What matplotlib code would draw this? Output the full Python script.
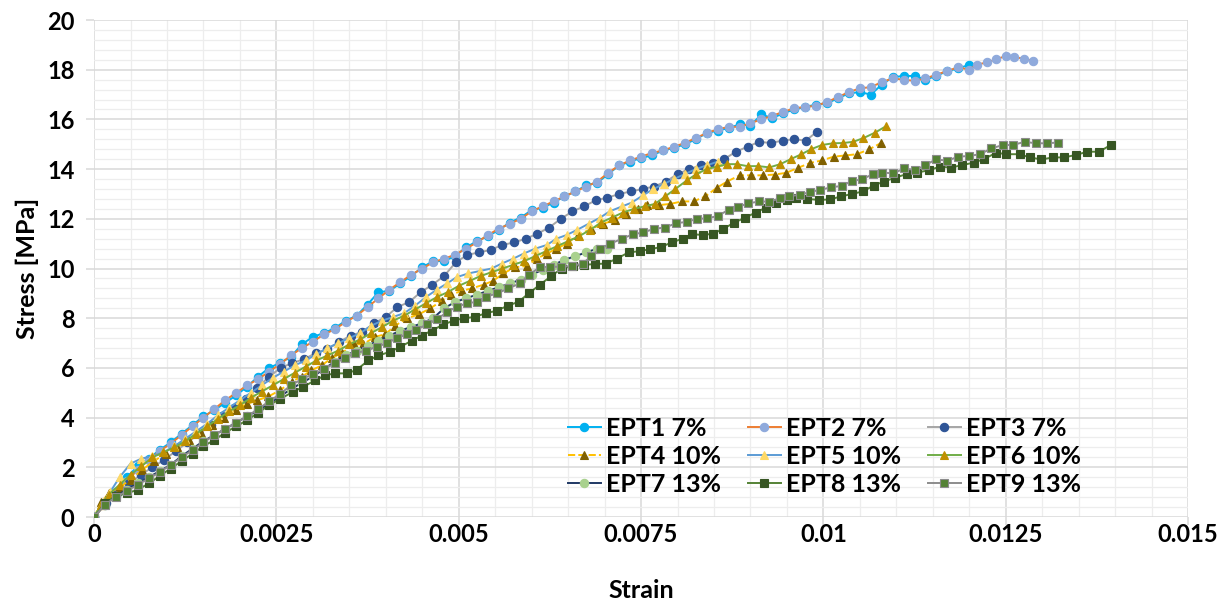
import matplotlib
matplotlib.use("Agg")
import matplotlib.pyplot as plt
from matplotlib.ticker import MultipleLocator, AutoMinorLocator, FuncFormatter

# données (strain, stress [MPa])
ept1 = [(0, 0), (0.00015, 0.55), (0.0003, 1.0), (0.00045, 1.6), (0.0006, 2.05), (0.00075, 2.35),
        (0.0009, 2.7), (0.00105, 3.0), (0.0012, 3.35), (0.00135, 3.7), (0.0015, 4.05), (0.00165, 4.3),
        (0.0018, 4.6), (0.00195, 4.9), (0.0021, 5.25), (0.00225, 5.65), (0.0024, 6.0), (0.00255, 6.2),
        (0.0027, 6.45), (0.00285, 6.95), (0.003, 7.25), (0.00315, 7.4), (0.0033, 7.6), (0.00345, 7.9),
        (0.0036, 8.1), (0.00375, 8.55), (0.0039, 9.05), (0.00405, 9.1), (0.0042, 9.4), (0.00435, 9.7),
        (0.0045, 10.05), (0.00465, 10.3), (0.0048, 10.3), (0.00495, 10.5), (0.0051, 10.85), (0.00525, 11.1),
        (0.0054, 11.3), (0.00555, 11.55), (0.0057, 11.85), (0.00585, 12.05), (0.006, 12.35), (0.00615, 12.45),
        (0.0063, 12.65), (0.00645, 12.9), (0.0066, 13.1), (0.00675, 13.35), (0.0069, 13.45), (0.00705, 13.8),
        (0.0072, 14.15), (0.00735, 14.3), (0.0075, 14.45), (0.00765, 14.55), (0.0078, 14.75), (0.00795, 14.85),
        (0.0081, 15.0), (0.00825, 15.2), (0.0084, 15.45), (0.00855, 15.55), (0.0087, 15.65), (0.00885, 15.8),
        (0.009, 15.75), (0.00915, 16.2), (0.0093, 16.05), (0.00945, 16.25), (0.0096, 16.4), (0.00975, 16.5),
        (0.0099, 16.6), (0.01005, 16.65), (0.0102, 16.85), (0.01035, 17.05), (0.0105, 17.1), (0.01065, 17.0),
        (0.0108, 17.4), (0.01095, 17.7), (0.0111, 17.75), (0.01125, 17.75), (0.0114, 17.6), (0.01155, 17.75),
        (0.0117, 17.95), (0.01185, 18.05), (0.012, 18.2)]

ept2 = [(0, 0), (0.00015, 0.5), (0.0003, 0.95), (0.00045, 1.45), (0.0006, 1.9), (0.00075, 2.3),
        (0.0009, 2.65), (0.00105, 2.95), (0.0012, 3.3), (0.00135, 3.65), (0.0015, 4.0), (0.00165, 4.35),
        (0.0018, 4.7), (0.00195, 5.0), (0.0021, 5.3), (0.00225, 5.55), (0.0024, 5.85), (0.00255, 6.15),
        (0.0027, 6.5), (0.00285, 6.8), (0.003, 7.05), (0.00315, 7.35), (0.0033, 7.55), (0.00345, 7.85),
        (0.0036, 8.1), (0.00375, 8.45), (0.0039, 8.8), (0.00405, 9.15), (0.0042, 9.45), (0.00435, 9.75),
        (0.0045, 10.0), (0.00465, 10.25), (0.0048, 10.4), (0.00495, 10.55), (0.0051, 10.8), (0.00525, 11.05),
        (0.0054, 11.35), (0.00555, 11.6), (0.0057, 11.8), (0.00585, 12.0), (0.006, 12.3), (0.00615, 12.5),
        (0.0063, 12.7), (0.00645, 12.9), (0.0066, 13.1), (0.00675, 13.3), (0.0069, 13.5), (0.00705, 13.85),
        (0.0072, 14.15), (0.00735, 14.35), (0.0075, 14.5), (0.00765, 14.65), (0.0078, 14.75), (0.00795, 14.9),
        (0.0081, 15.05), (0.00825, 15.25), (0.0084, 15.45), (0.00855, 15.6), (0.0087, 15.7), (0.00885, 15.7),
        (0.009, 15.85), (0.00915, 16.0), (0.0093, 16.15), (0.00945, 16.3), (0.0096, 16.45), (0.00975, 16.5),
        (0.0099, 16.55), (0.01005, 16.7), (0.0102, 16.9), (0.01035, 17.1), (0.0105, 17.25), (0.01065, 17.3),
        (0.0108, 17.5), (0.01095, 17.65), (0.0111, 17.6), (0.01125, 17.55), (0.0114, 17.65), (0.01155, 17.8),
        (0.0117, 17.95), (0.01185, 18.1), (0.012, 18.0), (0.0121, 18.2), (0.01225, 18.3), (0.01237, 18.42),
        (0.0125, 18.55), (0.01262, 18.5), (0.01275, 18.45), (0.01288, 18.35)]

ept3 = [(0, 0), (0.00016, 0.55), (0.00032, 0.95), (0.00048, 1.35), (0.00064, 1.7), (0.0008, 2.0),
        (0.00096, 2.3), (0.00112, 2.65), (0.00128, 3.0), (0.00144, 3.35), (0.0016, 3.7), (0.00176, 4.05),
        (0.00192, 4.4), (0.00208, 4.75), (0.00224, 5.2), (0.0024, 5.65), (0.00256, 6.0), (0.00272, 6.2),
        (0.00288, 6.35), (0.00304, 6.6), (0.0032, 6.75), (0.00336, 7.05), (0.00352, 7.3), (0.00368, 7.45),
        (0.00384, 7.8), (0.004, 8.05), (0.00416, 8.45), (0.00432, 8.65), (0.00448, 9.05), (0.00464, 9.35),
        (0.0048, 9.7), (0.00496, 10.25), (0.00512, 10.55), (0.00528, 10.65), (0.00544, 10.75), (0.0056, 10.95),
        (0.00576, 11.05), (0.00592, 11.2), (0.00608, 11.4), (0.00624, 11.65), (0.0064, 12.0), (0.00656, 12.3),
        (0.00672, 12.5), (0.00688, 12.75), (0.00704, 12.85), (0.0072, 13.0), (0.00736, 13.1), (0.00752, 13.2),
        (0.00768, 13.3), (0.00784, 13.5), (0.008, 13.8), (0.00816, 14.0), (0.00832, 14.15), (0.00848, 14.25),
        (0.00864, 14.4), (0.0088, 14.7), (0.00896, 14.9), (0.00912, 15.1), (0.00928, 15.05), (0.00944, 15.15),
        (0.0096, 15.2), (0.00976, 15.15), (0.00991, 15.5)]

ept4 = [(0, 0), (0.0001, 0.6), (0.0002, 0.95), (0.00035, 1.2), (0.0005, 1.5), (0.00066, 1.9),
        (0.00082, 2.25), (0.00098, 2.55), (0.00114, 2.8), (0.0013, 3.1), (0.00146, 3.4), (0.00162, 3.7),
        (0.00178, 4.0), (0.00194, 4.3), (0.0021, 4.55), (0.00224, 4.7), (0.00239, 4.85), (0.00255, 5.1),
        (0.00271, 5.45), (0.00285, 5.65), (0.00298, 5.9), (0.00312, 6.1), (0.00326, 6.4), (0.0034, 6.6),
        (0.00356, 6.95), (0.00369, 6.95), (0.00385, 7.25), (0.00399, 7.35), (0.00413, 7.7), (0.00429, 8.0),
        (0.00445, 8.15), (0.00461, 8.4), (0.00477, 8.7), (0.0049, 8.95), (0.00504, 9.1), (0.00518, 9.2),
        (0.00534, 9.35), (0.00547, 9.5), (0.00561, 9.8), (0.00577, 10.05), (0.00593, 10.1), (0.00607, 10.4),
        (0.00621, 10.6), (0.00634, 10.8), (0.00648, 11.0), (0.00664, 11.35), (0.00682, 11.6), (0.00698, 11.8),
        (0.00714, 11.95), (0.0073, 12.2), (0.00746, 12.4), (0.00758, 12.55), (0.00774, 12.55), (0.0079, 12.6),
        (0.00806, 12.7), (0.00822, 12.7), (0.00838, 12.9), (0.00854, 13.25), (0.00868, 13.5), (0.00885, 13.75),
        (0.00901, 13.75), (0.00917, 13.75), (0.00933, 13.78), (0.00949, 13.85), (0.00965, 14.05), (0.00982, 14.25),
        (0.00998, 14.35), (0.01014, 14.5), (0.0103, 14.55), (0.01046, 14.6), (0.01063, 14.8), (0.01079, 15.05)]

ept5 = [(0, 0), (0.0001, 0.5), (0.00022, 1.0), (0.00035, 1.6), (0.0005, 2.15), (0.00065, 2.35),
        (0.0008, 2.45), (0.00095, 2.6), (0.0011, 2.85), (0.00125, 3.15), (0.0014, 3.45), (0.00155, 3.75),
        (0.0017, 4.1), (0.00185, 4.4), (0.002, 4.7), (0.00215, 5.0), (0.0023, 5.3), (0.00245, 5.6),
        (0.0026, 5.85), (0.00275, 6.1), (0.0029, 6.3), (0.00305, 6.55), (0.0032, 6.8), (0.00335, 7.0),
        (0.0035, 7.2), (0.00365, 7.4), (0.0038, 7.7), (0.00395, 7.9), (0.0041, 8.05), (0.00425, 8.2),
        (0.0044, 8.5), (0.00455, 8.85), (0.0047, 9.15), (0.00484, 9.4), (0.00497, 9.65), (0.00513, 9.8),
        (0.00529, 9.9), (0.00545, 10.0), (0.00559, 10.2), (0.00575, 10.4), (0.00589, 10.6), (0.00605, 10.8),
        (0.00621, 10.95), (0.00634, 11.2), (0.00648, 11.35), (0.00662, 11.55), (0.00678, 11.8), (0.00694, 12.05),
        (0.00707, 12.3), (0.00724, 12.5), (0.00737, 12.65), (0.00753, 12.95), (0.00767, 13.2), (0.00781, 13.4),
        (0.00795, 13.6), (0.0081, 13.8), (0.00825, 14.0), (0.0084, 14.15), (0.00855, 14.3)]

ept6 = [(0, 0), (0.0001, 0.5), (0.0002, 0.9), (0.00035, 1.3), (0.0005, 1.7), (0.00065, 2.05),
        (0.0008, 2.4), (0.00095, 2.6), (0.0011, 2.8), (0.00125, 3.05), (0.0014, 3.35), (0.00155, 3.65),
        (0.0017, 3.95), (0.00185, 4.25), (0.002, 4.5), (0.00215, 4.8), (0.0023, 5.05), (0.00245, 5.3),
        (0.0026, 5.55), (0.00275, 5.8), (0.0029, 6.05), (0.00305, 6.3), (0.0032, 6.5), (0.00335, 6.7),
        (0.0035, 6.95), (0.00365, 7.15), (0.0038, 7.4), (0.00395, 7.65), (0.0041, 7.9), (0.00425, 8.1),
        (0.0044, 8.35), (0.00455, 8.6), (0.0047, 8.85), (0.00485, 9.05), (0.005, 9.3), (0.00515, 9.5),
        (0.0053, 9.7), (0.00545, 9.85), (0.0056, 10.0), (0.00575, 10.15), (0.0059, 10.3), (0.00605, 10.5),
        (0.0062, 10.7), (0.00635, 10.9), (0.0065, 11.1), (0.00665, 11.3), (0.0068, 11.55), (0.00695, 11.85),
        (0.0071, 12.05), (0.00725, 12.25), (0.0074, 12.4), (0.00755, 12.5), (0.00769, 12.6), (0.00783, 12.9),
        (0.00797, 13.2), (0.00813, 13.55), (0.00826, 13.8), (0.0084, 14.0), (0.00854, 14.1), (0.00868, 14.2),
        (0.00881, 14.2), (0.00896, 14.12), (0.00911, 14.12), (0.00926, 14.07), (0.00941, 14.2), (0.00955, 14.4),
        (0.0097, 14.6), (0.00983, 14.8), (0.00998, 14.97), (0.01013, 15.04), (0.01027, 15.05), (0.01041, 15.1),
        (0.01055, 15.25), (0.01071, 15.47), (0.01086, 15.73)]

ept7 = [(0, 0), (0.00015, 0.5), (0.0003, 0.85), (0.00045, 1.1), (0.0006, 1.35), (0.00075, 1.6),
        (0.0009, 1.85), (0.00105, 2.1), (0.0012, 2.45), (0.00135, 2.75), (0.0015, 3.05), (0.00165, 3.3),
        (0.0018, 3.55), (0.00195, 3.8), (0.0021, 4.05), (0.00225, 4.3), (0.0024, 4.55), (0.00255, 4.85),
        (0.0027, 5.15), (0.00285, 5.4), (0.003, 5.65), (0.00315, 5.95), (0.0033, 6.25), (0.00345, 6.5),
        (0.0036, 6.7), (0.00375, 6.9), (0.0039, 7.1), (0.00405, 7.3), (0.0042, 7.5), (0.00435, 7.65),
        (0.0045, 7.8), (0.00465, 8.0), (0.0048, 8.4), (0.00495, 8.65), (0.0051, 8.8), (0.00525, 8.95),
        (0.0054, 9.1), (0.00555, 9.25), (0.0057, 9.4), (0.00585, 9.55), (0.006, 9.75), (0.00615, 9.95),
        (0.0063, 10.15), (0.00645, 10.35), (0.0066, 10.5), (0.00675, 10.65), (0.0069, 10.8), (0.00703, 10.8)]

ept8 = [(0, 0), (0.00015, 0.55), (0.0003, 0.85), (0.00045, 0.95), (0.0006, 1.1), (0.00075, 1.35),
        (0.0009, 1.65), (0.00105, 1.95), (0.0012, 2.25), (0.00135, 2.55), (0.0015, 2.85), (0.00165, 3.1),
        (0.0018, 3.4), (0.00195, 3.65), (0.0021, 3.9), (0.00225, 4.2), (0.0024, 4.5), (0.00255, 4.75),
        (0.00273, 5.04), (0.00287, 5.24), (0.00303, 5.5), (0.00317, 5.7), (0.0033, 5.78), (0.00347, 5.78),
        (0.0036, 5.92), (0.00376, 6.3), (0.0039, 6.5), (0.00406, 6.65), (0.0042, 6.85), (0.00436, 7.1),
        (0.00449, 7.3), (0.00463, 7.5), (0.00479, 7.75), (0.00493, 7.9), (0.00507, 8.0), (0.00522, 8.05),
        (0.00537, 8.2), (0.00552, 8.3), (0.00567, 8.5), (0.00582, 8.66), (0.00596, 9.0), (0.00611, 9.34),
        (0.00627, 9.7), (0.00641, 10.0), (0.00657, 10.1), (0.00672, 10.15), (0.00687, 10.18), (0.00702, 10.2),
        (0.00717, 10.4), (0.00733, 10.65), (0.00749, 10.7), (0.00762, 10.78), (0.00777, 10.86), (0.00792, 11.05),
        (0.00807, 11.2), (0.0082, 11.38), (0.00835, 11.35), (0.00849, 11.4), (0.00863, 11.6), (0.00878, 11.85),
        (0.00893, 12.05), (0.00907, 12.25), (0.00921, 12.45), (0.00935, 12.62), (0.0095, 12.75), (0.00963, 12.85),
        (0.00978, 12.8), (0.00994, 12.76), (0.01009, 12.78), (0.01024, 12.9), (0.01039, 13.0), (0.01054, 13.1),
        (0.01069, 13.34), (0.01083, 13.5), (0.01098, 13.65), (0.01114, 13.8), (0.01129, 13.86), (0.01145, 13.96),
        (0.0116, 14.1), (0.01175, 14.06), (0.0119, 14.16), (0.01206, 14.26), (0.0122, 14.4), (0.01237, 14.66),
        (0.01251, 14.6), (0.01269, 14.6), (0.01283, 14.47), (0.01299, 14.39), (0.01315, 14.47), (0.0133, 14.47),
        (0.01346, 14.57), (0.01362, 14.7), (0.01378, 14.7), (0.01394, 14.97)]

ept9 = [(0, 0), (0.00015, 0.5), (0.0003, 0.8), (0.00045, 1.05), (0.0006, 1.3), (0.00075, 1.55),
        (0.0009, 1.8), (0.00105, 2.1), (0.0012, 2.4), (0.00135, 2.7), (0.0015, 3.0), (0.00165, 3.3),
        (0.0018, 3.55), (0.00195, 3.8), (0.0021, 4.05), (0.00225, 4.35), (0.0024, 4.65), (0.00255, 4.95),
        (0.0027, 5.3), (0.00285, 5.55), (0.003, 5.75), (0.00315, 5.95), (0.0033, 6.18), (0.00344, 6.4),
        (0.00358, 6.59), (0.00373, 6.7), (0.00388, 6.85), (0.00402, 7.0), (0.00415, 7.19), (0.00429, 7.35),
        (0.00442, 7.53), (0.00456, 7.75), (0.0047, 7.95), (0.00484, 8.25), (0.00497, 8.45), (0.00511, 8.6),
        (0.00525, 8.66), (0.00538, 8.87), (0.00553, 9.0), (0.00568, 9.2), (0.00584, 9.4), (0.00596, 9.74),
        (0.00611, 10.05), (0.00625, 10.07), (0.0064, 10.07), (0.00655, 10.1), (0.0067, 10.2), (0.00682, 10.5),
        (0.00694, 10.8), (0.00708, 11.0), (0.00724, 11.2), (0.00739, 11.38), (0.00753, 11.45), (0.00768, 11.6),
        (0.00783, 11.65), (0.00798, 11.82), (0.00813, 11.88), (0.00827, 12.0), (0.00841, 12.02), (0.00856, 12.12),
        (0.0087, 12.37), (0.00883, 12.48), (0.00897, 12.62), (0.00912, 12.7), (0.00926, 12.69), (0.0094, 12.82),
        (0.00953, 12.92), (0.00968, 12.96), (0.00982, 13.09), (0.00996, 13.16), (0.0101, 13.27), (0.01025, 13.32),
        (0.01039, 13.52), (0.01053, 13.59), (0.01068, 13.8), (0.01081, 13.86), (0.01096, 13.83), (0.01111, 14.03),
        (0.01126, 13.96), (0.0114, 14.16), (0.01154, 14.39), (0.0117, 14.34), (0.01185, 14.5), (0.012, 14.53),
        (0.01215, 14.6), (0.0123, 14.83), (0.01246, 14.97), (0.0126, 14.97), (0.01276, 15.1), (0.01291, 15.04),
        (0.01306, 15.04), (0.01322, 15.07)]

labels = ["EPT1 7%", "EPT2 7%", "EPT3 7%", "EPT4 10%", "EPT5 10%", "EPT6 10%",
          "EPT7 13%", "EPT8 13%", "EPT9 13%"]
series = [ept1, ept2, ept3, ept4, ept5, ept6, ept7, ept8, ept9]

# style : (couleur ligne, style ligne, marqueur, remplissage, bord)
styles = [
    ("#00B0F0", "-", "o", "#00B0F0", "#00B0F0"),
    ("#ED7D31", "-", "o", "#8FAADC", "#8FAADC"),
    ("#A5A5A5", "-", "o", "#2F5597", "#2F5597"),
    ("#FFC000", "--", "^", "#806000", "#806000"),
    ("#5B9BD5", "-", "^", "#FFD966", "#FFD966"),
    ("#70AD47", "-", "^", "#BF9000", "#BF9000"),
    ("#1F3864", "-", "o", "#A9D18E", "#A9D18E"),
    ("#548235", "-", "s", "#375623", "#375623"),
    ("#8C8C8C", "-", "s", "#548235", "#8C8C8C"),
]

plt.rcParams['font.family'] = ['Lato', 'DejaVu Sans']

fig = plt.figure(figsize=(12.31, 6.03), dpi=100)
ax = fig.add_axes([0.0764, 0.1426, 0.8887, 0.8242])

handles = []
for data, lab, (lc, ls, mk, mf, me) in zip(series, labels, styles):
    xs, ys = zip(*data)
    h, = ax.plot(xs, ys, color=lc, ls=ls, lw=1.4, marker=mk, ms=6,
                 markerfacecolor=mf, markeredgecolor=me, markeredgewidth=0.8, label=lab)
    handles.append(h)

ax.set_xlim(0, 0.015)
ax.set_ylim(0, 20)
ax.xaxis.set_major_locator(MultipleLocator(0.0025))
ax.yaxis.set_major_locator(MultipleLocator(2))
ax.xaxis.set_minor_locator(AutoMinorLocator(5))
ax.yaxis.set_minor_locator(AutoMinorLocator(5))
ax.xaxis.set_major_formatter(FuncFormatter(lambda v, p: f"{v:g}"))
ax.grid(which='major', color='#D9D9D9', lw=1.1, zorder=0)
ax.grid(which='minor', color='#EDEDED', lw=0.9, zorder=0)
ax.set_axisbelow(True)
for s in ax.spines.values():
    s.set_visible(False)
ax.tick_params(which='major', length=6, color='#D9D9D9', width=1.1, labelsize=17)
ax.tick_params(axis='y', pad=8)
ax.tick_params(axis='x', pad=-2)
ax.tick_params(which='minor', length=0)
for t in ax.get_xticklabels() + ax.get_yticklabels():
    t.set_fontweight('bold')

ax.set_xlabel('Strain', fontsize=18, fontweight='bold', labelpad=24)
ax.set_ylabel('Stress [MPa]', fontsize=18, fontweight='bold', labelpad=6)

# légende en lignes (ordre Excel)
order = [0, 3, 6, 1, 4, 7, 2, 5, 8]
leg = ax.legend([handles[i] for i in order], [labels[i] for i in order], ncol=3,
                loc='upper left', bbox_to_anchor=(0.4125, 0.2475), frameon=False,
                prop={'weight': 'bold', 'size': 18}, handlelength=1.32, columnspacing=1.08,
                labelspacing=0.2, handletextpad=0.2)

fig.savefig('out.png', dpi=100)
